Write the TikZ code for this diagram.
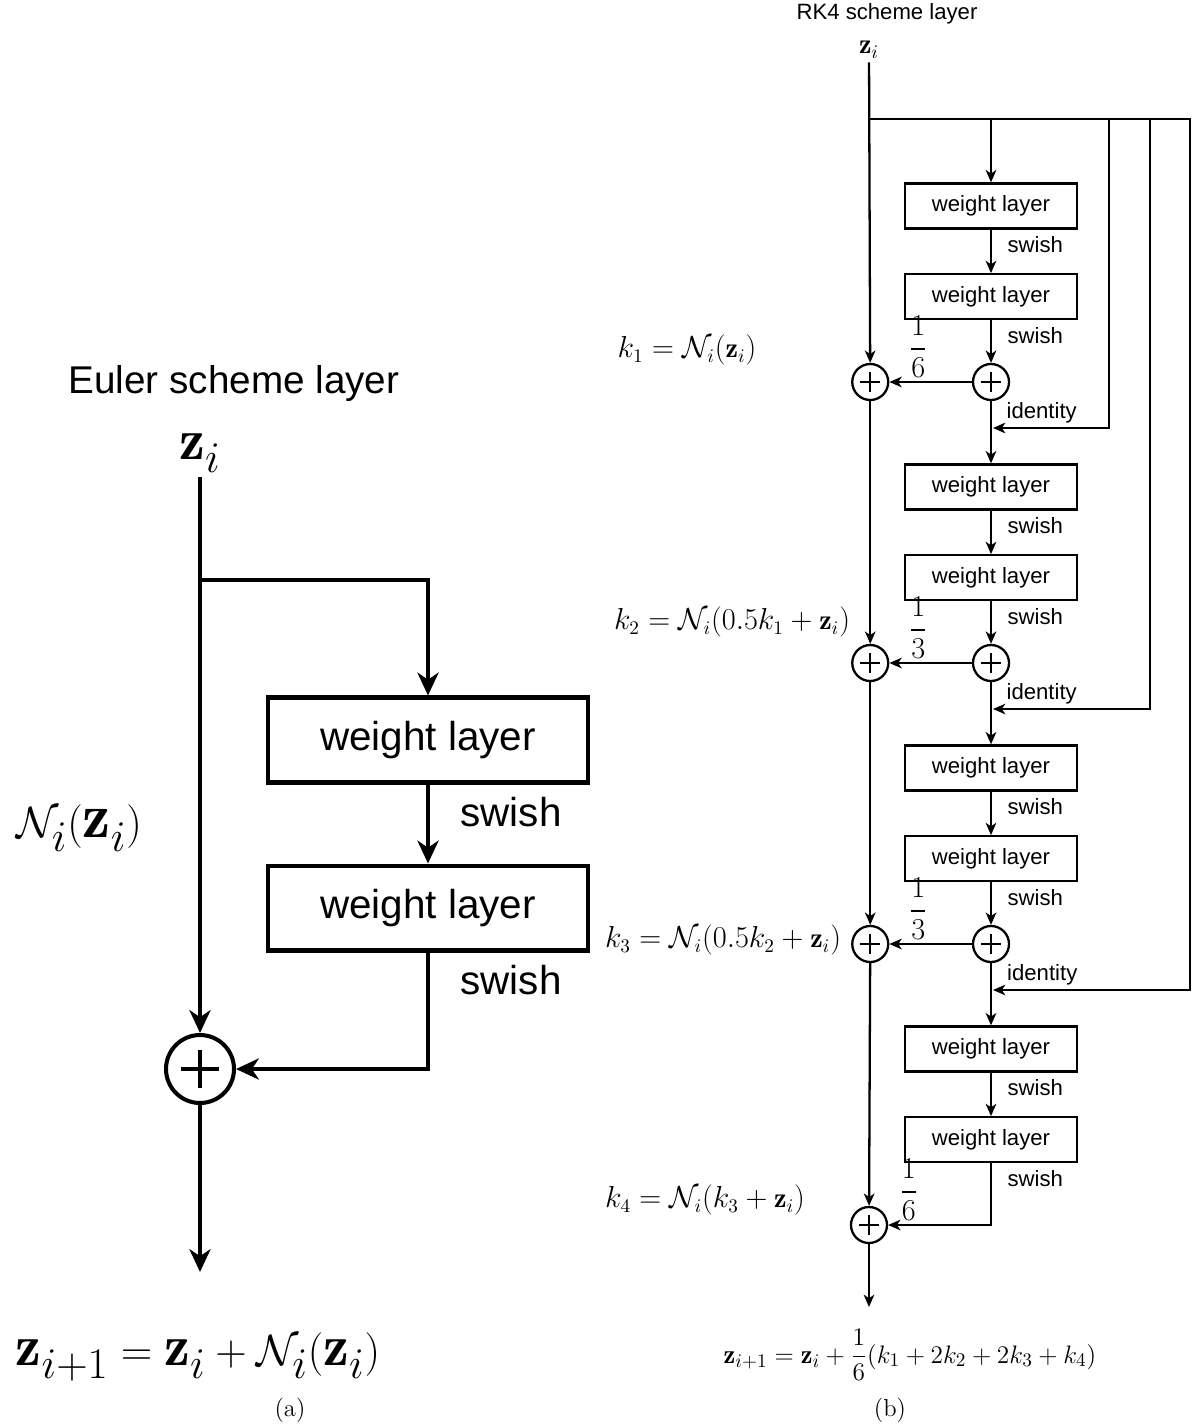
\documentclass[tikz,border=0pt]{standalone}
\usepackage{amsmath}
\usepackage{fontspec}
\setsansfont{Liberation Sans}
\usetikzlibrary{arrows.meta,positioning,calc}

\begin{document}
\begin{tikzpicture}[
  x=0.02cm, y=-0.02cm,
  every node/.style={inner sep=2pt},
  bigtext/.style={font=\sffamily\fontsize{23}{27}\selectfont},
  smalltext/.style={font=\sffamily\fontsize{12.6}{15}\selectfont},
  bigmath/.style={font=\fontsize{33}{38}\selectfont},
  smallmath/.style={font=\fontsize{16}{19}\selectfont},
  fracmath/.style={font=\fontsize{17}{20}\selectfont},
  captext/.style={font=\fontsize{14}{17}\selectfont},
  wbig/.style={draw, line width=2.3pt, bigtext, minimum width=6.42cm, minimum height=1.7cm},
  wsmall/.style={draw, line width=1.3pt, smalltext, minimum width=3.44cm, minimum height=0.9cm},
  sumnode/.style={circle, draw, inner sep=0pt, path picture={
    \draw ($(path picture bounding box.center)!0.55!(path picture bounding box.west)$)
       -- ($(path picture bounding box.center)!0.55!(path picture bounding box.east)$)
          ($(path picture bounding box.center)!0.55!(path picture bounding box.north)$)
       -- ($(path picture bounding box.center)!0.55!(path picture bounding box.south)$);}},
  rsum/.style={sumnode, line width=1.3pt, minimum size=0.72cm},
  earrow/.style={line width=2.3pt, -{Stealth[length=13pt,width=12pt,inset=4pt]}},
  rarrow/.style={line width=1.3pt, -{Stealth[length=7pt,width=6pt,inset=2pt]}}
]
  \useasboundingbox (0,0) rectangle (1195,1427);

  % (a) Euler scheme layer
  \node[bigtext, font=\sffamily\fontsize{22}{26}\selectfont] (etitle) at (234,383) {Euler scheme layer};
  \node[bigmath] (ezi) at (200,453) {$\mathbf{z}_i$};
  \node[wbig] (ew1) at (428,740) {weight layer};
  \node[wbig] (ew2) at (428,908) {weight layer};
  \node[sumnode, line width=2.3pt, minimum size=1.36cm] (esum) at (200,1069) {};
  \node[bigmath, font=\fontsize{36}{42}\selectfont] (enet) at (79,828) {$\mathcal{N}_i(\mathbf{z}_i)$};
  \node[bigmath] (eres) at (198,1357) {$\mathbf{z}_{i+1} = \mathbf{z}_i + \mathcal{N}_i(\mathbf{z}_i)$};
  \node[captext] (ecap) at (290,1410) {(a)};
  \coordinate (ebr) at (200,580);
  \coordinate (eout) at (200,1272);

  \draw[earrow] (ezi) -- (esum);
  \draw[earrow] (ebr) -| (ew1);
  \draw[earrow] (ew1) -- node[pos=0.35, right, bigtext, xshift=0.54cm]{swish} (ew2);
  \draw[earrow] (ew2) |- node[pos=0.12, right, bigtext, xshift=0.54cm]{swish} (esum);
  \draw[earrow] (esum) -- (eout);

  % (b) RK4 scheme layer
  \node[smalltext] (rtitle) at (887,14) {RK4 scheme layer};
  \node[smallmath] (rzi) at (869,50) {$\mathbf{z}_i$};
  \coordinate (rtop) at (869,119);

  \node[wsmall] (rw1) at (991,206) {weight layer};
  \node[wsmall, below=0.87cm of rw1] (rw2) {weight layer};
  \node[rsum] (rp1) at (991,382) {};
  \node[rsum, left=1.65cm of rp1] (rs1) {};
  \node[wsmall] (rw3) at (991,487) {weight layer};
  \node[wsmall, below=0.87cm of rw3] (rw4) {weight layer};
  \node[rsum] (rp2) at (991,663) {};
  \node[rsum, left=1.65cm of rp2] (rs2) {};
  \node[wsmall] (rw5) at (991,768) {weight layer};
  \node[wsmall, below=0.87cm of rw5] (rw6) {weight layer};
  \node[rsum] (rp3) at (991,944) {};
  \node[rsum, left=1.65cm of rp3] (rs3) {};
  \node[wsmall] (rw7) at (991,1049) {weight layer};
  \node[wsmall, below=0.87cm of rw7] (rw8) {weight layer};
  \node[rsum] (rs4) at (869,1225) {};
  \coordinate (rout) at (869,1307);

  \coordinate (rc1) at (1109,428);
  \coordinate (rc2) at (1150,709);
  \coordinate (rc3) at (1190,990);
  \coordinate (rj1) at (993,428);
  \coordinate (rj2) at (993,709);
  \coordinate (rj3) at (993,990);

  \node[smallmath] (rk1) at (687,350) {$k_1 = \mathcal{N}_i(\mathbf{z}_i)$};
  \node[smallmath] (rk2) at (732,622) {$k_2 = \mathcal{N}_i(0.5k_1 + \mathbf{z}_i)$};
  \node[smallmath] (rk3) at (723,940) {$k_3 = \mathcal{N}_i(0.5k_2 + \mathbf{z}_i)$};
  \node[smallmath] (rk4) at (705,1200) {$k_4 = \mathcal{N}_i(k_3 + \mathbf{z}_i)$};
  \node[smallmath, font=\fontsize{15}{18}\selectfont] (rres) at (910,1355) {$\mathbf{z}_{i+1} = \mathbf{z}_i + \dfrac{1}{6}(k_1 + 2k_2 + 2k_3 + k_4)$};
  \node[captext] (rcap) at (890,1410) {(b)};

  % main line
  \draw[rarrow] (rzi) -- (rs1);
  \draw[rarrow] (rs1) -- (rs2);
  \draw[rarrow] (rs2) -- (rs3);
  \draw[rarrow] (rs3) -- (rs4);
  \draw[rarrow] (rs4) -- (rout);

  % stages
  \draw[rarrow] (rtop) -| (rw1);
  \draw[rarrow] (rw1) -- node[pos=0.35, right, smalltext, xshift=0.24cm]{swish} (rw2);
  \draw[rarrow] (rw2) -- node[pos=0.35, right, smalltext, xshift=0.24cm]{swish} (rp1);
  \draw[rarrow] (rp1) -- node[pos=0.65, above, fracmath]{$\dfrac{1}{6}$} (rs1);
  \draw[rarrow] (rp1) -- (rw3);
  \draw[rarrow] (rw3) -- node[pos=0.35, right, smalltext, xshift=0.24cm]{swish} (rw4);
  \draw[rarrow] (rw4) -- node[pos=0.35, right, smalltext, xshift=0.24cm]{swish} (rp2);
  \draw[rarrow] (rp2) -- node[pos=0.65, above, fracmath]{$\dfrac{1}{3}$} (rs2);
  \draw[rarrow] (rp2) -- (rw5);
  \draw[rarrow] (rw5) -- node[pos=0.35, right, smalltext, xshift=0.24cm]{swish} (rw6);
  \draw[rarrow] (rw6) -- node[pos=0.35, right, smalltext, xshift=0.24cm]{swish} (rp3);
  \draw[rarrow] (rp3) -- node[pos=0.65, above, fracmath]{$\dfrac{1}{3}$} (rs3);
  \draw[rarrow] (rp3) -- (rw7);
  \draw[rarrow] (rw7) -- node[pos=0.35, right, smalltext, xshift=0.24cm]{swish} (rw8);
  \draw[rarrow] (rw8) |- node[pos=0.127, right, smalltext, xshift=0.24cm]{swish}
    node[pos=0.9, above, fracmath]{$\dfrac{1}{6}$} (rs4);

  % identity shortcuts
  \draw[rarrow] (rtop) -| (rc1) -- node[pos=0.58, above, smalltext]{identity} (rj1);
  \draw[rarrow] (rtop) -| (rc2) -- node[pos=0.69, above, smalltext]{identity} (rj2);
  \draw[rarrow] (rtop) -| (rc3) -- node[pos=0.75, above, smalltext]{identity} (rj3);
\end{tikzpicture}
\end{document}
